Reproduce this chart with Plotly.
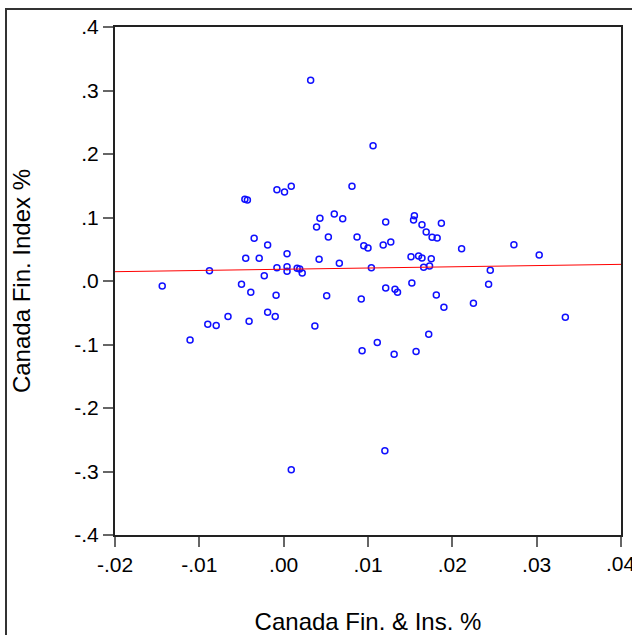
import numpy as np
import plotly.graph_objects as go

# Canada Fin. & Ins. % (x) vs Canada Fin. Index % (y)
fin_ins = [-0.0144, -0.0111, -0.0088, -0.0090, -0.0080, -0.0066, -0.0050, -0.0039, -0.0041, -0.0045,
           -0.0035, -0.0029, -0.0019, -0.0023, -0.0019, -0.0010, -0.0009, -0.0008, 0.0004, 0.0004,
           0.0004, 0.0016, 0.0019, 0.0022, 0.0037, 0.0039, 0.0043, 0.0060, 0.0070, 0.0053,
           0.0042, 0.0051, 0.0066, 0.0087, 0.0095, 0.0092, 0.0032, 0.0081, -0.0046, -0.0043,
           -0.0008, 0.0001, 0.0009, 0.0106, 0.0155, 0.0154, 0.0121, 0.0164, 0.0187, 0.0169,
           0.0176, 0.0182, 0.0100, 0.0118, 0.0127, 0.0211, 0.0273, 0.0303, 0.0151, 0.0160,
           0.0164, 0.0175, 0.0104, 0.0166, 0.0173, 0.0245, 0.0243, 0.0152, 0.0121, 0.0132,
           0.0135, 0.0181, 0.0190, 0.0225, 0.0334, 0.0172, 0.0111, 0.0131, 0.0157, 0.0093,
           0.0120, 0.0009]
fin_index = [-0.0079, -0.0929, 0.0162, -0.0682, -0.0701, -0.0559, -0.0052, -0.0178, -0.0635, 0.0357,
             0.0672, 0.0357, 0.0567, 0.0083, -0.0491, -0.0559, -0.0225, 0.0209, 0.0430, 0.0225,
             0.0153, 0.0200, 0.0189, 0.0126, -0.0709, 0.0850, 0.0987, 0.1055, 0.0981, 0.0693,
             0.0342, -0.0231, 0.0279, 0.0693, 0.0556, -0.0283, 0.3161, 0.1491, 0.1287, 0.1276,
             0.1438, 0.1402, 0.1491, 0.2131, 0.1028, 0.0961, 0.0929, 0.0887, 0.0909, 0.0772,
             0.0688, 0.0677, 0.0520, 0.0567, 0.0614, 0.0509, 0.0572, 0.0409, 0.0383, 0.0394,
             0.0362, 0.0351, 0.0209, 0.0216, 0.0236, 0.0169, -0.0052, -0.0031, -0.0110, -0.0131,
             -0.0178, -0.0220, -0.0414, -0.0351, -0.0572, -0.0839, -0.0969, -0.1154, -0.1110, -0.1098,
             -0.2672, -0.2972]

# Fitted regression line
fit_intercept = 0.0185
fit_slope = 0.193
fit_x_range = [-0.02, 0.04]

x_ticks = [-0.02, -0.01, 0.0, 0.01, 0.02, 0.03]
x_tick_labels = ["-.02", "-.01", ".00", ".01", ".02", ".03"]
x_last_tick = 0.04
x_last_label = ".04"
y_ticks = [-0.4, -0.3, -0.2, -0.1, 0.0, 0.1, 0.2, 0.3, 0.4]
y_tick_labels = ["-.4", "-.3", "-.2", "-.1", ".0", ".1", ".2", ".3", ".4"]

line_x = np.array(fit_x_range)
line_y = fit_intercept + fit_slope * line_x

FONT = "Liberation Sans, Arial, sans-serif"
TICK_SIZE = 21

fig = go.Figure()
fig.add_trace(go.Scatter(
    x=fin_ins, y=fin_index, mode="markers",
    marker=dict(symbol="circle-open", size=6, color="#1010ff", line=dict(width=1.5, color="#1010ff")),
    showlegend=False, hoverinfo="x+y"))
fig.add_trace(go.Scatter(
    x=line_x, y=line_y, mode="lines",
    line=dict(color="#ff0000", width=1), showlegend=False, hoverinfo="skip"))

fig.update_layout(
    width=632, height=635,
    margin=dict(l=115, r=11, t=27, b=100),
    paper_bgcolor="white", plot_bgcolor="white",
    font=dict(family=FONT, color="black"),
    xaxis=dict(range=[-0.02, 0.04], tickvals=x_ticks + [x_last_tick], ticktext=x_tick_labels + [""],
               showgrid=False, zeroline=False, showline=True, mirror=True, automargin=False,
               linecolor="#222222", linewidth=2, ticks="outside", ticklen=10,
               tickcolor="#666666", tickwidth=1.5, tickfont=dict(size=TICK_SIZE),
               title=dict(text="Canada Fin. & Ins. %", font=dict(size=24), standoff=38)),
    yaxis=dict(range=[-0.4, 0.4], tickvals=y_ticks, ticktext=y_tick_labels,
               showgrid=False, zeroline=False, showline=True, mirror=True, automargin=False,
               linecolor="#222222", linewidth=2, ticks="outside", ticklen=10,
               tickcolor="#666666", tickwidth=1.5, tickfont=dict(size=TICK_SIZE),
               title=dict(text="Canada Fin. Index %", font=dict(size=24), standoff=37)),
    annotations=[dict(x=x_last_tick, y=0, xref="x", yref="paper", yanchor="top", xanchor="center",
                      yshift=-15, text=x_last_label, showarrow=False, font=dict(size=TICK_SIZE))],
    shapes=[dict(type="rect", xref="paper", yref="paper",
                 x0=(6 - 115) / 506, x1=(645 - 115) / 506,
                 y0=(535 - 650) / 508, y1=(535 - 9) / 508,
                 line=dict(color="#333333", width=2), fillcolor="rgba(0,0,0,0)", layer="below")],
)

fig.write_html("out.html")
